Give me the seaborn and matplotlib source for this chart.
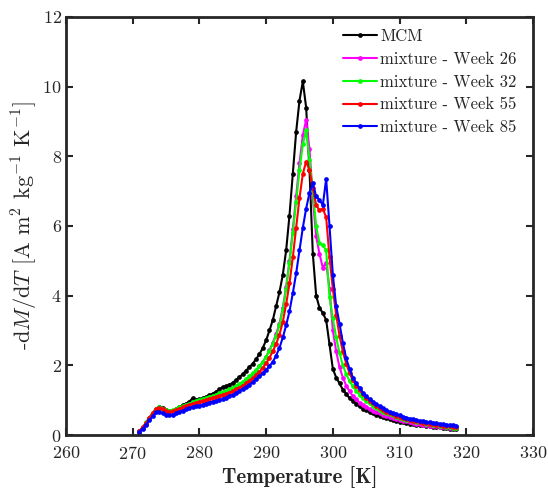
import matplotlib
matplotlib.use("Agg")
import matplotlib.pyplot as plt
import seaborn as sns
import numpy as np
import pandas as pd

# temperature grid [K], 0.5 K steps from 271 to 318.5
temperature = np.arange(271.0, 318.51, 0.5)

mcm = [
    0.10, 0.20, 0.33, 0.47, 0.62, 0.76, 0.81, 0.77, 0.72, 0.68,   # 271 - 275.5
    0.70, 0.75, 0.80, 0.86, 0.90, 0.96, 1.06, 1.00, 1.02, 1.05,   # 276 - 280.5
    1.10, 1.14, 1.19, 1.24, 1.32, 1.37, 1.40, 1.44, 1.50, 1.58,   # 281 - 285.5
    1.66, 1.75, 1.85, 1.95, 2.05, 2.18, 2.32, 2.50, 2.72, 3.00,   # 286 - 290.5
    3.30, 3.70, 4.10, 4.60, 5.30, 6.30, 7.50, 8.70, 9.60, 10.15,  # 291 - 295.5
    9.40, 7.60, 5.20, 4.00, 3.65, 3.50, 3.30, 2.60, 1.90, 1.65,   # 296 - 300.5
    1.48, 1.30, 1.18, 1.06, 0.97, 0.90, 0.82, 0.76, 0.71, 0.66,   # 301 - 305.5
    0.62, 0.58, 0.55, 0.52, 0.49, 0.46, 0.43, 0.40, 0.38, 0.36,   # 306 - 310.5
    0.34, 0.33, 0.31, 0.30, 0.29, 0.28, 0.26, 0.25, 0.24, 0.23,   # 311 - 315.5
    0.22, 0.20, 0.19, 0.18, 0.17, 0.16,                           # 316 - 318.5
]

week26 = [
    0.12, 0.22, 0.35, 0.50, 0.63, 0.75, 0.78, 0.74, 0.70, 0.67,
    0.69, 0.73, 0.77, 0.81, 0.85, 0.88, 0.92, 0.95, 0.98, 1.01,
    1.04, 1.07, 1.10, 1.13, 1.17, 1.20, 1.24, 1.28, 1.32, 1.37,
    1.43, 1.50, 1.57, 1.65, 1.75, 1.85, 1.97, 2.10, 2.25, 2.43,
    2.65, 2.90, 3.20, 3.65, 4.25, 5.00, 5.90, 6.85, 7.80, 8.60,
    9.05, 8.20, 6.80, 5.70, 5.20, 4.80, 4.95, 4.20, 3.00, 2.40,
    1.95, 1.65, 1.42, 1.25, 1.12, 1.02, 0.93, 0.86, 0.80, 0.75,
    0.70, 0.66, 0.62, 0.58, 0.55, 0.52, 0.49, 0.46, 0.44, 0.41,
    0.39, 0.37, 0.35, 0.33, 0.32, 0.30, 0.29, 0.27, 0.26, 0.25,
    0.24, 0.23, 0.22, 0.21, 0.20, 0.19,
]

week32 = [
    0.12, 0.22, 0.36, 0.50, 0.64, 0.76, 0.80, 0.76, 0.72, 0.70,
    0.71, 0.75, 0.79, 0.83, 0.87, 0.90, 0.94, 0.97, 1.00, 1.03,
    1.06, 1.09, 1.12, 1.16, 1.20, 1.23, 1.27, 1.31, 1.36, 1.41,
    1.47, 1.53, 1.60, 1.68, 1.77, 1.87, 1.98, 2.10, 2.25, 2.42,
    2.62, 2.85, 3.15, 3.60, 4.20, 4.95, 5.80, 6.70, 7.60, 8.35,
    8.75, 7.90, 7.00, 6.00, 5.50, 5.45, 5.30, 3.95, 3.35, 2.80,
    2.35, 2.00, 1.75, 1.55, 1.40, 1.27, 1.16, 1.06, 0.98, 0.91,
    0.84, 0.78, 0.72, 0.67, 0.63, 0.59, 0.56, 0.53, 0.50, 0.47,
    0.44, 0.42, 0.40, 0.38, 0.36, 0.34, 0.32, 0.31, 0.29, 0.28,
    0.26, 0.25, 0.24, 0.23, 0.21, 0.20,
]

week55 = [
    0.12, 0.22, 0.35, 0.50, 0.63, 0.75, 0.78, 0.74, 0.69, 0.66,
    0.68, 0.72, 0.76, 0.80, 0.84, 0.87, 0.90, 0.93, 0.95, 0.98,
    1.01, 1.04, 1.07, 1.10, 1.13, 1.16, 1.19, 1.22, 1.26, 1.31,
    1.36, 1.42, 1.48, 1.55, 1.63, 1.72, 1.82, 1.93, 2.06, 2.22,
    2.40, 2.62, 2.88, 3.25, 3.75, 4.35, 5.10, 5.95, 6.80, 7.50,
    7.85, 7.60, 7.10, 6.60, 6.45, 6.50, 6.25, 5.10, 4.20, 3.45,
    2.85, 2.40, 2.05, 1.78, 1.57, 1.42, 1.29, 1.17, 1.07, 0.99,
    0.91, 0.84, 0.78, 0.72, 0.67, 0.63, 0.59, 0.55, 0.52, 0.49,
    0.46, 0.44, 0.41, 0.39, 0.37, 0.35, 0.34, 0.32, 0.31, 0.29,
    0.28, 0.27, 0.26, 0.25, 0.24, 0.23,
]

week85 = [
    0.10, 0.18, 0.30, 0.42, 0.55, 0.65, 0.67, 0.62, 0.58, 0.56,
    0.58, 0.62, 0.66, 0.70, 0.74, 0.77, 0.80, 0.82, 0.84, 0.87,
    0.90, 0.93, 0.96, 0.98, 1.00, 1.03, 1.07, 1.11, 1.15, 1.20,
    1.26, 1.32, 1.38, 1.44, 1.52, 1.60, 1.68, 1.77, 1.87, 1.98,
    2.10, 2.28, 2.50, 2.80, 3.15, 3.55, 4.07, 4.64, 5.30, 5.95,
    6.50, 6.95, 7.22, 6.85, 6.75, 6.60, 7.35, 6.00, 4.60, 3.70,
    3.20, 2.65, 2.20, 1.90, 1.65, 1.48, 1.35, 1.22, 1.12, 1.03,
    0.96, 0.89, 0.83, 0.77, 0.72, 0.67, 0.63, 0.59, 0.56, 0.53,
    0.50, 0.47, 0.45, 0.43, 0.41, 0.39, 0.38, 0.36, 0.35, 0.34,
    0.32, 0.31, 0.30, 0.29, 0.28, 0.27,
]

series_names = ["MCM", "mixture - Week 26", "mixture - Week 32",
                "mixture - Week 55", "mixture - Week 85"]
series_values = [mcm, week26, week32, week55, week85]
colors = ["#000000", "#ff00ff", "#00ff00", "#ff0000", "#0000ff"]

x_ticks = [260, 270, 280, 290, 300, 310, 320, 330]
y_ticks = [0, 2, 4, 6, 8, 10, 12]

sns.set_style("ticks")
plt.rcParams["font.family"] = ["cmr10", "DejaVu Serif"]
plt.rcParams["mathtext.fontset"] = "cm"
plt.rcParams["axes.formatter.use_mathtext"] = True

df = pd.concat(
    [pd.DataFrame({"T": temperature, "dMdT": vals, "sample": name})
     for name, vals in zip(series_names, series_values)],
    ignore_index=True,
)

fig = plt.figure(figsize=(5.48, 4.88), dpi=100)
ax = fig.add_axes([0.1204, 0.1086, 0.8522, 0.8566])

sns.lineplot(data=df, x="T", y="dMdT", hue="sample", hue_order=series_names,
             palette=colors, marker="o", markersize=3.4, markeredgewidth=0,
             linewidth=1.5, sort=False, estimator=None, ax=ax)

ax.set_xlim(260, 330)
ax.set_ylim(0, 12)
ax.set_xticks(x_ticks)
ax.set_yticks(y_ticks)
ax.tick_params(direction="in", length=5, width=1.5, top=True, right=True,
               labelsize=13, colors="#262626")
ax.tick_params(axis="x", pad=7)
ax.tick_params(axis="y", pad=3)
ax.tick_params(labeltop=False, labelright=False)
for sp in ax.spines.values():
    sp.set_visible(True)
    sp.set_linewidth(2.0)
    sp.set_color("#262626")

ax.set_xlabel("Temperature [K]", fontsize=15, family="cmb10", labelpad=3,
              color="#262626")
ax.set_ylabel(r"-d$M$/d$T$ [A m$^2$ kg$^{-1}$ K$^{-1}$]", fontsize=16,
              labelpad=2, color="#262626")

leg = ax.legend(loc="upper right", frameon=False, fontsize=12,
                handlelength=2.0, handletextpad=0.2, labelspacing=0.45,
                borderaxespad=0.3, bbox_to_anchor=(0.99, 1.0))

fig.savefig("out.png", dpi=100)
